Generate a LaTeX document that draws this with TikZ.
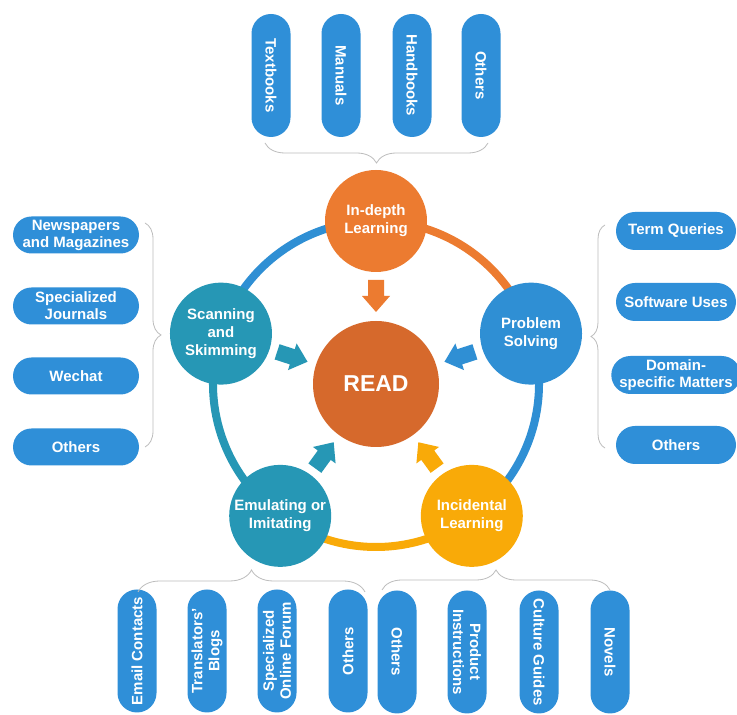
\documentclass[tikz,border=0pt]{standalone}
\usepackage{fontspec}
\setmainfont{Liberation Sans}
\usetikzlibrary{shapes.misc,decorations.pathreplacing,calc}

\definecolor{boxblue}{HTML}{2F8FD8}
\definecolor{ringblue}{HTML}{2F8FD4}
\definecolor{tealc}{HTML}{2697B5}
\definecolor{orangec}{HTML}{EC7B30}
\definecolor{readc}{HTML}{D6692C}
\definecolor{yellowc}{HTML}{F9AA08}
\definecolor{bracec}{HTML}{BDBDBD}

\tikzset{
  pill/.style={rounded rectangle, fill=boxblue, text=white, inner sep=0pt,
    font=\bfseries\fontsize{15}{17}\selectfont, align=center},
  hpill/.style={pill, minimum width=126pt, minimum height=37pt},
  rpill/.style={pill, minimum width=120pt, minimum height=38pt},
  vpill/.style={pill, minimum width=123pt, minimum height=39pt},
  topic/.style={circle, minimum size=102pt, inner sep=0pt, text=white,
    font=\bfseries\fontsize{15}{18}\selectfont, align=center},
  ringarc/.style={line width=8pt},
  bracket/.style={draw=bracec, line width=0.8pt, decorate,
    decoration={brace, amplitude=#1}},
}

% block arrow pointing from a ring node toward the centre
\newcommand{\towardcentre}[2]{%
  \begin{scope}[shift={(c)}, rotate=#1]
    \fill[#2] (104,8) -- (88,8) -- (88,14) -- (72,0) -- (88,-14)
      -- (88,-8) -- (104,-8) -- cycle;
  \end{scope}}

\begin{document}
\begin{tikzpicture}[x=1pt,y=1pt]
  \useasboundingbox (0,0) rectangle (737,715);
  \fill[white] (0,0) rectangle (737,715);

  \coordinate (c) at (376,331);

  % ring segments between the five activities
  \draw[ringarc, ringblue] ($(c)+(90:163)$) arc[start angle=90, end angle=162, radius=163];
  \draw[ringarc, orangec] ($(c)+(18:163)$) arc[start angle=18, end angle=90, radius=163];
  \draw[ringarc, ringblue] ($(c)+(-54:163)$) arc[start angle=-54, end angle=18, radius=163];
  \draw[ringarc, yellowc] ($(c)+(-126:163)$) arc[start angle=-126, end angle=-54, radius=163];
  \draw[ringarc, tealc] ($(c)+(162:163)$) arc[start angle=162, end angle=234, radius=163];

  % activities on the ring
  \node[topic, fill=orangec] (deep) at ($(c)+(90:163)$) {In-depth\\Learning};
  \node[topic, fill=ringblue] (prob) at ($(c)+(18:163)$) {Problem\\Solving};
  \node[topic, fill=yellowc] (incid) at ($(c)+(-54:163)$) {Incidental\\Learning};
  \node[topic, fill=tealc] (emul) at ($(c)+(-126:163)$) {Emulating or\\Imitating};
  \node[topic, fill=tealc] (scan) at ($(c)+(162:163)$) {Scanning\\and\\Skimming};

  % centre
  \node[circle, fill=readc, minimum size=126pt, inner sep=0pt, text=white,
    font=\bfseries\fontsize{23}{26}\selectfont] (read) at (c) {READ};

  \towardcentre{90}{orangec}
  \towardcentre{18}{ringblue}
  \towardcentre{-54}{yellowc}
  \towardcentre{-126}{tealc}
  \towardcentre{162}{tealc}

  % materials for in-depth learning
  \node[vpill, rotate=-90] (t1) at (271,639.5) {Textbooks};
  \node[vpill, rotate=-90] (t2) at (341,639.5) {Manuals};
  \node[vpill, rotate=-90] (t3) at (412,639.5) {Handbooks};
  \node[vpill, rotate=-90] (t4) at (481,639.5) {Others};
  \coordinate (tb1) at (488,572);
  \coordinate (tb2) at (265,572);
  \draw[bracket=20] (tb1) -- (tb2);

  % materials for scanning and skimming
  \node[hpill] (l1) at (76,480) {Newspapers\\and Magazines};
  \node[hpill] (l2) at (76,409) {Specialized\\Journals};
  \node[hpill] (l3) at (76,339) {Wechat};
  \node[hpill] (l4) at (76,268) {Others};
  \coordinate (lb1) at (145,492);
  \coordinate (lb2) at (145,268);
  \draw[bracket=16] (lb1) -- (lb2);

  % materials for problem solving
  \node[rpill] (r1) at (676,484) {Term Queries};
  \node[rpill] (r2) at (676,413) {Software Uses};
  \node[rpill] (r3) at (676,340) {Domain-\\specific Matters};
  \node[rpill] (r4) at (676,270) {Others};
  \coordinate (rb1) at (605,267);
  \coordinate (rb2) at (605,490);
  \draw[bracket=14] (rb1) -- (rb2);

  % materials for emulating or imitating
  \node[vpill, rotate=90] (e1) at (137,64) {Email Contacts};
  \node[vpill, rotate=90] (e2) at (207,64) {Translators'\\Blogs};
  \node[vpill, rotate=90] (e3) at (277,64) {Specialized\\Online Forum};
  \node[vpill, rotate=90] (e4) at (348,64) {Others};
  \coordinate (eb1) at (138,123);
  \coordinate (eb2) at (365,123);
  \draw[bracket=22] (eb1) -- (eb2);

  % materials for incidental learning
  \node[vpill, rotate=-90] (i1) at (397,63) {Others};
  \node[vpill, rotate=-90] (i2) at (467,63) {Product\\Instructions};
  \node[vpill, rotate=-90] (i3) at (539,63) {Culture Guides};
  \node[vpill, rotate=-90] (i4) at (610,63) {Novels};
  \coordinate (ib1) at (382,125);
  \coordinate (ib2) at (610,125);
  \draw[bracket=20] (ib1) -- (ib2);
\end{tikzpicture}
\end{document}
